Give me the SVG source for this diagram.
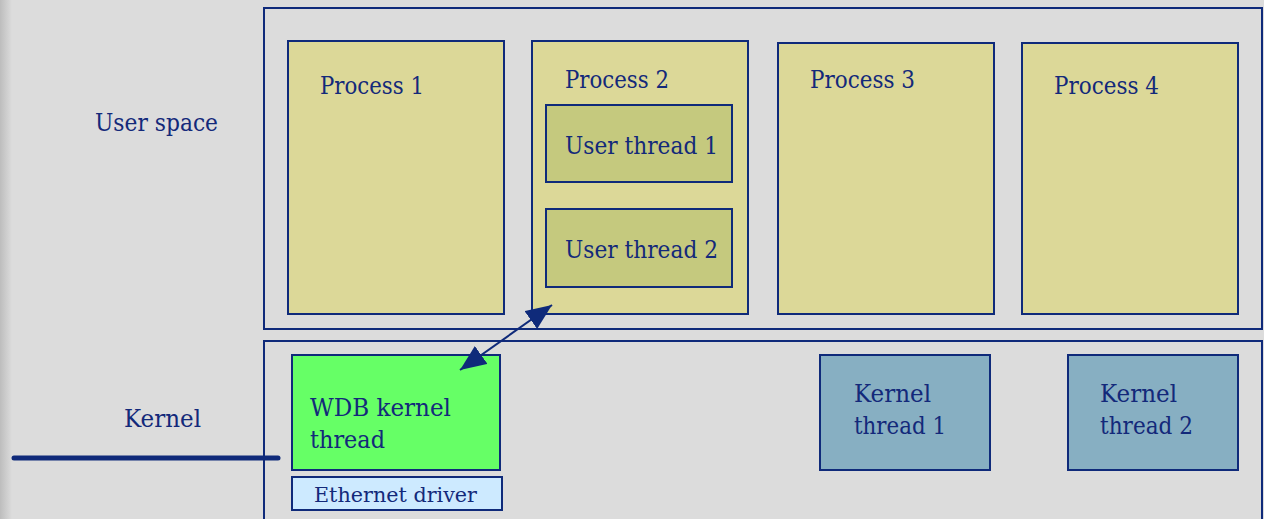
<svg xmlns="http://www.w3.org/2000/svg" width="1264" height="519" viewBox="0 0 1264 519">
  <defs>
    <linearGradient id="edge" x1="0" y1="0" x2="1" y2="0">
      <stop offset="0" stop-color="#bdbdbd"/>
      <stop offset="1" stop-color="#dcdcdc"/>
    </linearGradient>
    <marker id="head" viewBox="0 0 26 22" refX="26" refY="11" markerWidth="26" markerHeight="22" markerUnits="userSpaceOnUse" orient="auto-start-reverse">
      <polygon points="0,0 26,11 0,22" fill="#0f2a7a"/>
    </marker>
  </defs>
  <style>
    .frame { fill: none; stroke: #0f2a7a; stroke-width: 2; }
    .proc { fill: #dcd898; stroke: #0f2a7a; stroke-width: 2; }
    .uthr { fill: #c5c97e; stroke: #0f2a7a; stroke-width: 2; }
    .wdb { fill: #66ff66; stroke: #0f2a7a; stroke-width: 2; }
    .eth { fill: #cdeaff; stroke: #0f2a7a; stroke-width: 2; }
    .kthr { fill: #87afc2; stroke: #0f2a7a; stroke-width: 2; }
    text { font-family: "DejaVu Serif", "Liberation Serif", serif; font-size: 24px; fill: #13297a; }
    .small { font-size: 21px; }
  </style>

  <!-- page background -->
  <rect x="0" y="0" width="1264" height="519" fill="#dcdcdc"/>
  <rect x="0" y="0" width="12" height="519" fill="url(#edge)"/>

  <!-- layer labels -->
  <g id="label-user">
    <text x="95" y="131" textLength="123" lengthAdjust="spacingAndGlyphs">User space</text>
  </g>
  <g id="label-kernel">
    <text x="124" y="427" textLength="77" lengthAdjust="spacingAndGlyphs">Kernel</text>
  </g>

  <!-- layer frames -->
  <g id="user-space">
    <rect class="frame" x="264" y="8" width="998" height="321"/>
  </g>
  <g id="kernel-space">
    <rect class="frame" x="264" y="341" width="998" height="190"/>
  </g>

  <!-- processes -->
  <g id="process1">
    <rect class="proc" x="288" y="41" width="216" height="273"/>
    <text x="320" y="94" textLength="104" lengthAdjust="spacingAndGlyphs">Process 1</text>
  </g>
  <g id="process2">
    <rect class="proc" x="532" y="41" width="216" height="273"/>
    <text x="565" y="88" textLength="104" lengthAdjust="spacingAndGlyphs">Process 2</text>
  </g>
  <g id="user-thread1">
    <rect class="uthr" x="546" y="105" width="186" height="77"/>
    <text x="565" y="154" textLength="153" lengthAdjust="spacingAndGlyphs">User thread 1</text>
  </g>
  <g id="user-thread2">
    <rect class="uthr" x="546" y="209" width="186" height="78"/>
    <text x="565" y="258" textLength="153" lengthAdjust="spacingAndGlyphs">User thread 2</text>
  </g>
  <g id="process3">
    <rect class="proc" x="778" y="43" width="216" height="271"/>
    <text x="810" y="88" textLength="105" lengthAdjust="spacingAndGlyphs">Process 3</text>
  </g>
  <g id="process4">
    <rect class="proc" x="1022" y="43" width="216" height="271"/>
    <text x="1054" y="94" textLength="105" lengthAdjust="spacingAndGlyphs">Process 4</text>
  </g>

  <!-- kernel threads -->
  <g id="wdb-thread">
    <rect class="wdb" x="292" y="355" width="208" height="115"/>
    <text x="310" y="416" textLength="141" lengthAdjust="spacingAndGlyphs">WDB kernel</text>
    <text x="310" y="448" textLength="75" lengthAdjust="spacingAndGlyphs">thread</text>
  </g>
  <g id="ethernet-driver">
    <rect class="eth" x="292" y="477" width="210" height="33"/>
    <text class="small" x="314" y="502" textLength="163" lengthAdjust="spacingAndGlyphs">Ethernet driver</text>
  </g>
  <g id="kernel-thread1">
    <rect class="kthr" x="820" y="355" width="170" height="115"/>
    <text x="854" y="402" textLength="77" lengthAdjust="spacingAndGlyphs">Kernel</text>
    <text x="854" y="434" textLength="92" lengthAdjust="spacingAndGlyphs">thread 1</text>
  </g>
  <g id="kernel-thread2">
    <rect class="kthr" x="1068" y="355" width="170" height="115"/>
    <text x="1100" y="402" textLength="77" lengthAdjust="spacingAndGlyphs">Kernel</text>
    <text x="1100" y="434" textLength="93" lengthAdjust="spacingAndGlyphs">thread 2</text>
  </g>

  <!-- connectors -->
  <g id="connectors">
    <line x1="14" y1="458" x2="278" y2="458" stroke="#0f2a7a" stroke-width="5" stroke-linecap="round"/>
    <line x1="460" y1="370" x2="552" y2="305" stroke="#0f2a7a" stroke-width="2" marker-start="url(#head)" marker-end="url(#head)"/>
  </g>
</svg>
